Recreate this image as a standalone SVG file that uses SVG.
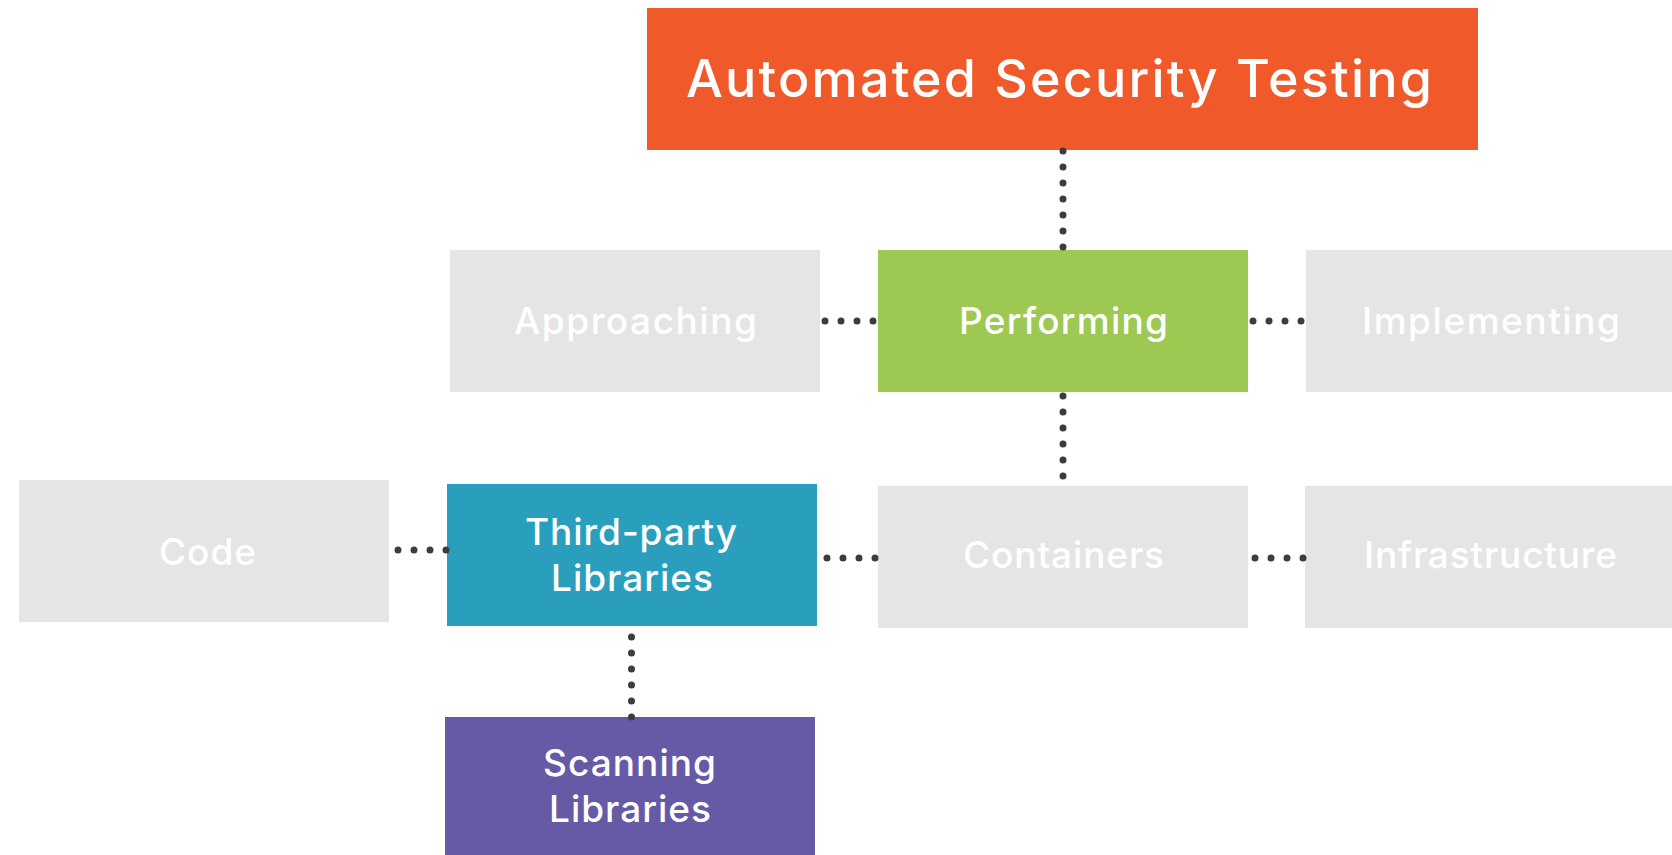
<svg xmlns="http://www.w3.org/2000/svg" width="1672" height="855" viewBox="0 0 1672 855">
<style>
.t{font-family:Inter,"Open Sans","Liberation Sans",sans-serif;font-weight:500;fill:#ffffff;text-anchor:middle;font-size:37px}
.h{font-size:52px}
.grey{fill:#e5e5e5}
.dots{stroke:#3c3c3c;stroke-width:7;stroke-linecap:round;stroke-dasharray:0 16;fill:none}
</style>
<rect width="1672" height="855" fill="#ffffff"/>
<g id="automated-security-testing">
<rect x="647" y="8" width="831" height="142" fill="#f05a2b"/>
<text class="t h" x="1059" y="97" textLength="746" lengthAdjust="spacing">Automated Security Testing</text>
</g>
<g id="approaching">
<rect class="grey" x="450" y="250" width="370" height="142"/>
<text class="t" x="635.5" y="334" textLength="243" lengthAdjust="spacing">Approaching</text>
</g>
<g id="performing">
<rect x="878" y="250" width="370" height="142" fill="#9dc852"/>
<text class="t" x="1063.5" y="334" textLength="209" lengthAdjust="spacing">Performing</text>
</g>
<g id="implementing">
<rect class="grey" x="1306" y="250" width="370" height="142"/>
<text class="t" x="1491" y="334" textLength="258" lengthAdjust="spacing">Implementing</text>
</g>
<g id="code">
<rect class="grey" x="19" y="480" width="370" height="142"/>
<text class="t" x="207.5" y="565" textLength="97" lengthAdjust="spacing">Code</text>
</g>
<g id="third-party-libraries">
<rect x="447" y="484" width="370" height="142" fill="#2a9fbd"/>
<text class="t" x="631" y="545" textLength="212" lengthAdjust="spacing">Third-party</text>
<text class="t" x="632" y="591" textLength="162" lengthAdjust="spacing">Libraries</text>
</g>
<g id="containers">
<rect class="grey" x="878" y="486" width="370" height="142"/>
<text class="t" x="1063.5" y="568" textLength="201" lengthAdjust="spacing">Containers</text>
</g>
<g id="infrastructure">
<rect class="grey" x="1305" y="486" width="371" height="142"/>
<text class="t" x="1490.5" y="568" textLength="253" lengthAdjust="spacing">Infrastructure</text>
</g>
<g id="scanning-libraries">
<rect x="445" y="717" width="370" height="140" fill="#665aa6"/>
<text class="t" x="629.5" y="776" textLength="173" lengthAdjust="spacing">Scanning</text>
<text class="t" x="630" y="822" textLength="162" lengthAdjust="spacing">Libraries</text>
</g>
<g id="connectors">
<line class="dots" x1="1063" y1="151" x2="1063" y2="248"/>
<line class="dots" x1="825" y1="321" x2="874" y2="321"/>
<line class="dots" x1="1253" y1="321" x2="1302" y2="321"/>
<line class="dots" x1="1063" y1="396" x2="1063" y2="477"/>
<line class="dots" x1="398" y1="550" x2="447" y2="550"/>
<line class="dots" x1="827" y1="558" x2="876" y2="558"/>
<line class="dots" x1="1255" y1="558" x2="1304" y2="558"/>
<line class="dots" x1="631.5" y1="637" x2="631.5" y2="718"/>
</g>
</svg>
